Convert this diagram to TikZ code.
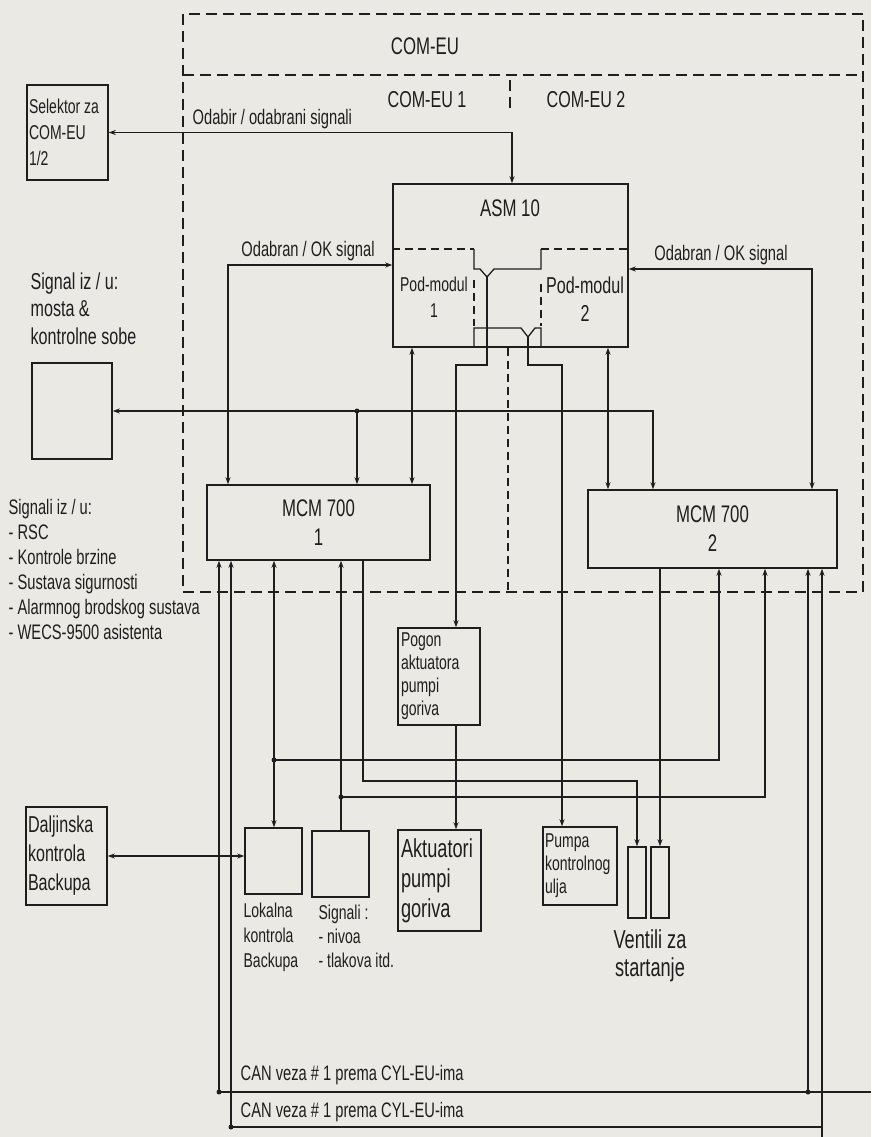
\documentclass[tikz,border=0pt]{standalone}
\usepackage{fontspec}
\setmainfont{Liberation Sans}[FakeStretch=0.70]
\usetikzlibrary{arrows.meta}

\definecolor{paper}{RGB}{234,233,228}
\definecolor{ink}{RGB}{30,30,30}

\tikzset{
  frame/.style={line width=1.3pt, dash pattern=on 11pt off 6pt},
  inner/.style={line width=1.3pt, dash pattern=on 8pt off 5pt},
  box/.style={draw, rectangle, inner sep=0pt, line width=1.5pt},
  tbox/.style={box, align=flush left, inner xsep=3pt, inner ysep=0pt},
  txt/.style={font=\fontsize{21}{25}\selectfont, inner sep=0pt},
  big/.style={font=\fontsize{24}{29}\selectfont, inner sep=0pt},
}

\begin{document}
\begin{tikzpicture}[x=1pt, y=-1pt, line width=1.3pt, draw=ink, text=ink,
    >={Stealth[length=7pt,width=5pt]}]
\fill[paper] (0,0) rectangle (871,1137);
\useasboundingbox (0,0) rectangle (871,1137);

% COM-EU okvir
\draw[frame] (183,14) rectangle (863,592);
\draw[frame] (183,75) -- (863,75);
\draw[frame] (510,80) -- (510,112);
\node[big] (comeu) at (425,46) {COM-EU};
\node[txt, font=\fontsize{23}{25}\selectfont] (comeuA) at (427,100) {COM-EU 1};
\node[txt, font=\fontsize{23}{25}\selectfont] (comeuB) at (586,100) {COM-EU 2};
\node[txt, anchor=west] (odabir) at (192,119) {Odabir / odabrani signali};
\node[txt] (okA) at (308,251) {Odabran / OK signal};
\node[txt] (okB) at (721,255) {Odabran / OK signal};

% lijeva strana
\node[tbox, txt, inner xsep=2pt, minimum width=81pt, minimum height=95pt, text width=77pt, font=\fontsize{20}{26}\selectfont] (selektor) at (67.5,132.5) {Selektor za\\COM-EU\\1/2};
\node[txt, anchor=north west, align=left, font=\fontsize{23}{27.5}\selectfont] (mostlbl) at (30,272) {Signal iz / u:\\mosta \&\\kontrolne sobe};
\node[box, minimum width=80pt, minimum height=96pt] (mostbox) at (72,411) {};
\node[txt, anchor=north west, align=left] (siglist) at (8,499) {Signali iz / u:\\- RSC\\- Kontrole brzine\\- Sustava sigurnosti\\- Alarmnog brodskog sustava\\- WECS-9500 asistenta};
\node[tbox, txt, inner xsep=2pt, minimum width=81pt, minimum height=98pt, text width=77pt, font=\fontsize{23}{29}\selectfont] (daljinska) at (66.5,856) {Daljinska\\kontrola\\Backupa};

% ASM 10
\node[box, minimum width=235pt, minimum height=163pt] (asm) at (510.5,265.5) {};
\node[big] (asmlbl) at (510,208) {ASM 10};
\node[txt, font=\fontsize{20}{26}\selectfont, align=center] (podA) at (434,297) {Pod-modul\\1};
\node[txt, font=\fontsize{23}{28}\selectfont, align=center] (podB) at (585,299) {Pod-modul\\2};
\coordinate (yTop) at (487,277);
\coordinate (yBot) at (528,337);
\draw[inner] (asm.west |- 0,249) -- (474,249);
\draw (474,249) -- (474,269) -- (480,269) -- (yTop) -- (494,269) -- (541,269) -- (541,249);
\draw[inner] (541,249) -- (asm.east |- 0,249);
\draw[inner] (474,280) -- (474,326);
\draw[inner] (541,284) -- (541,326);
\draw (474,0 |- asm.south) -- (474,328) -- (521,328) -- (yBot) -- (535,328) -- (541,328) -- (541,0 |- asm.south);
\draw[inner] (508,0 |- asm.south) -- (508,592);

% MCM 700
\node[box, big, align=center, minimum width=223pt, minimum height=75pt] (mcmA) at (318.5,522.5) {MCM 700\\1};
\node[box, big, align=center, minimum width=249pt, minimum height=78pt] (mcmB) at (712.5,529) {MCM 700\\2};

% izvrsni elementi
\node[tbox, txt, inner xsep=3pt, minimum width=82pt, minimum height=97pt, text width=76pt, font=\fontsize{20}{23}\selectfont] (pogon) at (439,676.5) {Pogon\\aktuatora\\pumpi\\goriva};
\node[tbox, txt, inner xsep=3pt, minimum width=83pt, minimum height=101pt, text width=77pt, font=\fontsize{26}{30}\selectfont] (aktuatori) at (439.5,880.5) {Aktuatori\\pumpi\\goriva};
\node[tbox, txt, inner xsep=2pt, minimum width=74pt, minimum height=78pt, text width=70pt, font=\fontsize{20}{23}\selectfont] (pumpa) at (580,866) {Pumpa\\kontrolnog\\ulja};
\node[box, minimum width=18pt, minimum height=71pt] (ventilA) at (637,882.5) {};
\node[box, minimum width=18pt, minimum height=71pt] (ventilB) at (660,882.5) {};
\node[big, align=center, font=\fontsize{26}{28}\selectfont] (ventililbl) at (650,956) {Ventili za\\startanje};
\node[box, minimum width=57pt, minimum height=66pt] (lokalna) at (273.5,861) {};
\node[box, minimum width=57pt, minimum height=66pt] (signali) at (340.5,864) {};
\node[txt, anchor=north west, align=left, font=\fontsize{20}{25}\selectfont] (lokalnalbl) at (243,902) {Lokalna\\kontrola\\Backupa};
\node[txt, anchor=north west, align=left, font=\fontsize{20}{24}\selectfont] (signalilbl) at (318,904) {Signali :\\- nivoa\\- tlakova itd.};

% CAN veze
\coordinate (canA) at (219,1092);
\coordinate (canB) at (231,1127);
\coordinate (canAr) at (808,1092);
\coordinate (canBr) at (822,1127);
\coordinate (canEnd) at (871,1092);
\coordinate (bottomEdge) at (822,1137);
\node[txt, anchor=west] (cantxtA) at (240,1075) {CAN veza \# 1 prema CYL-EU-ima};
\node[txt, anchor=west] (cantxtB) at (240,1112) {CAN veza \# 1 prema CYL-EU-ima};

% spojevi gore
\coordinate (jbus) at (357,411);
\draw[<->] (selektor.east) -| (asm.north -| 512,0);
\draw[<->] (asm.west |- 0,265) -| (mcmA.north -| 228,0);
\draw[<->] (asm.east |- 0,269) -| (mcmB.north -| 812,0);
\draw[<->] (mostbox.east) -| (mcmB.north -| 653,0);
\draw[->] (jbus) -- (mcmA.north -| jbus);
\draw[<->] (asm.south -| 412,0) -- (mcmA.north -| 412,0);
\draw[<->] (asm.south -| 608,0) -- (mcmB.north -| 608,0);
\draw[->] (yTop) -- (487,365) -| (pogon.north -| 456,0);
\draw[->] (yBot) -- (528,365) -| (pumpa.north -| 562,0);
\draw[->] (pogon.south -| 456,0) -- (aktuatori.north -| 456,0);
\draw[<->] (daljinska.east) -- (lokalna.west |- daljinska.east);

% spojevi dolje
\coordinate (jlok) at (274,760);
\coordinate (jsig) at (341,797);
\draw[->] (canA) -- (mcmA.south -| canA);
\draw[->] (canB) -- (mcmA.south -| canB);
\draw[<->] (mcmA.south -| jlok) -- (lokalna.north -| jlok);
\draw[->] (jlok) -| (mcmB.south -| 719,0);
\draw[->] (signali.north -| jsig) -- (mcmA.south -| jsig);
\draw[->] (jsig) -| (mcmB.south -| 765,0);
\draw[->] (mcmA.south -| 363,0) |- (ventilA.north |- 0,781) -- (ventilA.north);
\draw[->] (mcmB.south -| ventilB.north) -- (ventilB.north);
\draw[->] (canAr) -- (mcmB.south -| canAr);
\draw[->] (bottomEdge) -- (mcmB.south -| bottomEdge);
\draw (canA) -- (canEnd);
\draw (canB) -- (canBr);

\foreach \p in {jbus, jlok, jsig, canA, canB, canAr}
  \fill[ink] (\p) circle (2.5pt);
\end{tikzpicture}
\end{document}
